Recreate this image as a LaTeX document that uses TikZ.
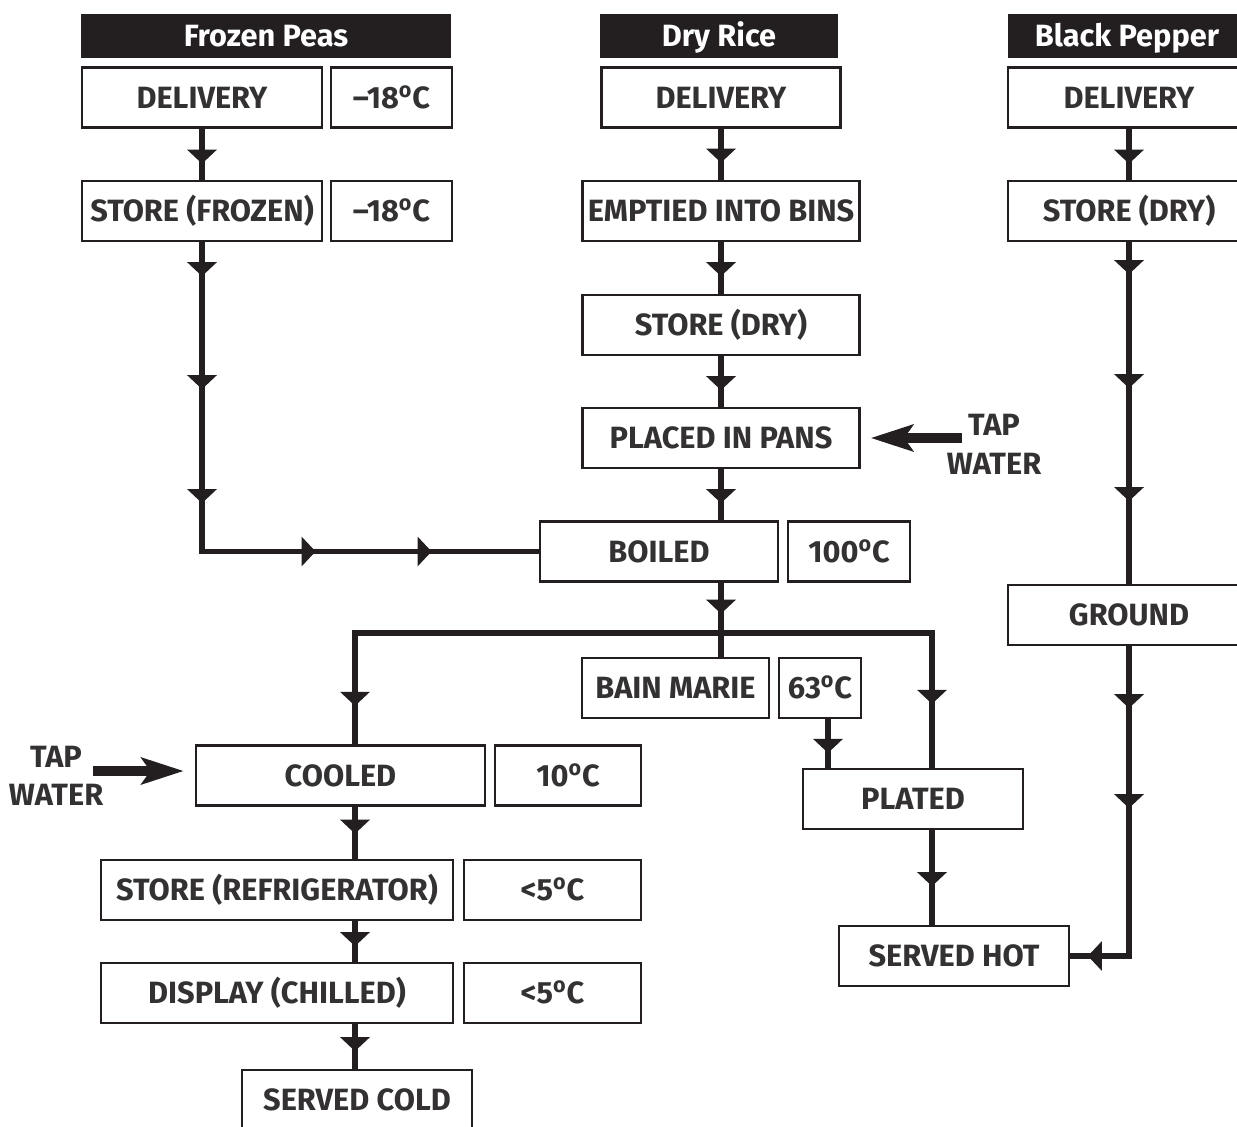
\documentclass[tikz,border=0pt]{standalone}
\usepackage{fontspec}
\setmainfont{Fira Sans}
\usetikzlibrary{arrows.meta}
\usetikzlibrary{decorations.markings}
\definecolor{ink}{HTML}{231F20}
\definecolor{txt}{HTML}{333132}
\newcommand{\degr}{\textsuperscript{o}}

\begin{document}
\begin{tikzpicture}[
  x=0.02cm, y=-0.02cm,
  box/.style={draw=ink,line width=1.4pt,fill=white,text=txt,
    font=\bfseries\fontsize{17.5}{22}\selectfont,
    minimum height=1.2cm,inner sep=0pt,text height=12pt,text depth=0pt},
  head/.style={fill=ink,text=white,font=\bfseries\fontsize{17.5}{22}\selectfont,
    minimum height=0.88cm,inner sep=0pt,text height=12pt,text depth=0pt},
  label/.style={text=txt,font=\bfseries\fontsize{17.5}{22}\selectfont,
    align=center,inner sep=0pt},
  flow/.style={draw=ink,line width=2.9pt},
  tipat/.style={postaction={decorate,decoration={markings,
    mark=at position #1 with {\arrow{Triangle[width=16.5pt,length=8pt]}}}}},
  tap/.style={draw=ink,line width=5.6pt,-{Stealth[length=24pt,width=15pt,inset=5pt]}},
]
\useasboundingbox (0,0) rectangle (1237,1126);
\clip (0,0) rectangle (1237,1126);

% headers
\node[head,minimum width=7.4cm]  (hPeas)   at (266,36)  {Frozen Peas};
\node[head,minimum width=4.76cm] (hRice)   at (719,36)  {Dry Rice};
\node[head,minimum width=4.76cm] (hPepper) at (1127,36) {Black Pepper};

% frozen peas
\node[box,minimum width=4.8cm]  (pDel)  at (202,97.5)  {DELIVERY};
\node[box,minimum width=2.42cm] (pDelT) at (391.5,97.5) {–18\degr C};
\node[box,minimum width=4.8cm]  (pSto)  at (202,211)   {STORE (FROZEN)};
\node[box,minimum width=2.42cm] (pStoT) at (391.5,211) {–18\degr C};

% dry rice
\node[box,minimum width=4.78cm] (rDel)  at (721,97.5) {DELIVERY};
\node[box,minimum width=5.54cm] (rBin)  at (721,211)  {EMPTIED INTO BINS};
\node[box,minimum width=5.54cm] (rSto)  at (721,325)  {STORE (DRY)};
\node[box,minimum width=5.54cm] (rPan)  at (721,438)  {PLACED IN PANS};
\node[box,minimum width=4.76cm] (rBoil) at (659,551.5) {BOILED};
\node[box,minimum width=2.44cm] (rBoilT) at (849,551.5) {100\degr C};
\node[box,minimum width=3.74cm] (rBain) at (675.5,688) {BAIN MARIE};
\node[box,minimum width=1.64cm] (rBainT) at (820,688) {63\degr C};
\node[box,minimum width=4.4cm]  (rPlate) at (913,799) {PLATED};
\node[box,minimum width=4.6cm]  (rHot)  at (954,956)  {SERVED HOT};
\node[label] (tapTop) at (994,444.5) {TAP\\WATER};
\coordinate (tapR)  at (962,438);
\coordinate (split) at (721,633);
\coordinate (lcol)  at (355,633);
\coordinate (rcol)  at (932,633);
\coordinate (mtop)  at (828,718);

% black pepper
\node[box,minimum width=4.84cm] (kDel)    at (1129,97.5) {DELIVERY};
\node[box,minimum width=4.84cm] (kSto)    at (1129,211)  {STORE (DRY)};
\node[box,minimum width=4.84cm] (kGround) at (1129,615)  {GROUND};

% cooling branch
\node[box,minimum width=5.78cm] (lCool)    at (340.5,775.5) {COOLED};
\node[box,minimum width=2.92cm] (lCoolT)   at (568,775.5)   {10\degr C};
\node[box,minimum width=7.04cm] (lFridge)  at (277,890)     {STORE (REFRIGERATOR)};
\node[box,minimum width=3.54cm] (lFridgeT) at (552.5,890)   {<5\degr C};
\node[box,minimum width=7.04cm] (lDisp)    at (277,993)     {DISPLAY (CHILLED)};
\node[box,minimum width=3.54cm] (lDispT)   at (552.5,993)   {<5\degr C};
\node[box,minimum width=4.6cm]  (lServe)   at (357,1100)    {SERVED COLD};
\node[label] (tapBot) at (56,776) {TAP\\WATER};
\coordinate (tapL) at (93,771);

% connectors
\draw[flow,tipat=0.7cm] (pDel) -- (pSto);
\draw[flow,tipat=0.68cm,tipat=2.94cm,tipat=5.22cm,tipat=8.46cm,tipat=10.78cm]
  (pSto.south) |- (rBoil.west);
\draw[flow,tipat=0.68cm] (rDel) -- (rBin);
\draw[flow,tipat=0.68cm] (rBin) -- (rSto);
\draw[flow,tipat=0.68cm] (rSto) -- (rPan);
\draw[flow,tipat=0.68cm] (rPan.south) -- (rPan.south |- rBoil.north);
\draw[flow,tipat=0.62cm] (split |- rBoil.south) -- (split);
\draw[flow,tipat=8.78cm] (split) -- (lcol) -- (lcol |- lCool.north);
\draw[flow,tipat=5.64cm] (split) -- (rcol) -- (rcol |- rPlate.north);
\draw[flow] (split) -- (split |- rBain.north);
\draw[flow,tipat=0.7cm] (mtop) -- (mtop |- rPlate.north);
\draw[flow,tipat=1.12cm] (rcol |- rPlate.south) -- (rcol |- rHot.north);
\draw[flow,tipat=0.7cm] (kDel) -- (kSto);
\draw[flow,tipat=0.64cm,tipat=2.92cm,tipat=5.18cm] (kSto) -- (kGround);
\draw[flow,tipat=1.24cm,tipat=3.24cm,tipat=7.02cm] (kGround.south) |- (rHot.east);
\draw[flow,tipat=0.54cm] (lcol |- lCool.south) -- (lcol |- lFridge.north);
\draw[flow,tipat=0.5cm] (lcol |- lFridge.south) -- (lcol |- lDisp.north);
\draw[flow,tipat=0.54cm] (lcol |- lDisp.south) -- (lcol |- lServe.north);
\draw[tap,shorten >=0.2cm] (tapR) -- (tapR -| rPan.east);
\draw[tap,shorten >=0.22cm] (tapL) -- (tapL -| lCool.west);
\end{tikzpicture}
\end{document}
